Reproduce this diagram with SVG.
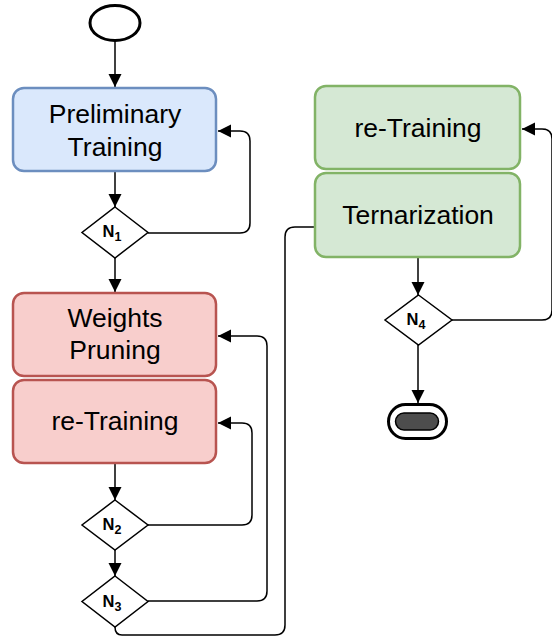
<svg xmlns="http://www.w3.org/2000/svg" width="552" height="636" viewBox="0 0 552 636">
<style>
.lbl{font-family:"Liberation Sans",Arial,sans-serif;font-size:26.5px;fill:#000;text-anchor:middle}
.dl{font-family:"Liberation Sans",Arial,sans-serif;font-weight:bold;fill:#000;font-size:16.5px}
.sub{font-size:12.5px}
.blue{fill:#dae8fc;stroke:#6c8ebf;stroke-width:2.5}
.red{fill:#f8cecc;stroke:#b85450;stroke-width:2.5}
.green{fill:#d5e8d4;stroke:#82b366;stroke-width:2.5}
.dia{fill:#fff;stroke:#000;stroke-width:1.5}
.edge{fill:none;stroke:#000;stroke-width:1.5}
.arr{marker-end:url(#ah)}
</style>
<defs>
<marker id="ah" markerUnits="userSpaceOnUse" markerWidth="14" markerHeight="14" refX="13" refY="6.5" orient="auto">
<path d="M0,0 L13,6.5 L0,13 Z" fill="#000"/>
</marker>
</defs>
<g id="connectors">
<path class="edge arr" d="M115,41 V87"/>
<path class="edge arr" d="M115,172 V207"/>
<path class="edge arr" d="M148,233 H240 Q250,233 250,223 V141 Q250,131 240,131 H218"/>
<path class="edge arr" d="M115,258 V292"/>
<path class="edge arr" d="M115,464 V500"/>
<path class="edge arr" d="M148,525 H242 Q252,525 252,515 V433 Q252,423 242,423 H218"/>
<path class="edge arr" d="M115,550 V576"/>
<path class="edge arr" d="M148,601 H257 Q267,601 267,591 V346 Q267,336 257,336 H218"/>
<path class="edge" d="M115,627 Q115,635 122,635 H275 Q285,635 285,625 V237 Q285,227 295,227 H315"/>
<path class="edge arr" d="M418,258 V295"/>
<path class="edge arr" d="M452,320 H542 Q552,320 552,310 V139 Q552,129 542,129 H522"/>
<path class="edge arr" d="M418,345 V403"/>
</g>
<g id="start">
<ellipse cx="115" cy="23" rx="25" ry="17.5" fill="#fff" stroke="#000" stroke-width="3"/>
</g>
<g id="preliminary-training">
<rect class="blue" x="13" y="88" width="203" height="83" rx="11"/>
<text class="lbl" x="115" y="123">Preliminary</text>
<text class="lbl" x="115" y="156">Training</text>
</g>
<g id="n1">
<polygon class="dia" points="115,207 148,232.5 115,258 82,232.5"/>
<text class="dl" x="102.5" y="236.5">N<tspan class="sub" dy="4">1</tspan></text>
</g>
<g id="weights-pruning">
<rect class="red" x="13" y="293" width="203" height="83" rx="11"/>
<text class="lbl" x="115" y="327">Weights</text>
<text class="lbl" x="115" y="359">Pruning</text>
</g>
<g id="re-training-red">
<rect class="red" x="13" y="380" width="203" height="83" rx="11"/>
<text class="lbl" x="115" y="430">re-Training</text>
</g>
<g id="n2">
<polygon class="dia" points="115,500 148,525 115,550 82,525"/>
<text class="dl" x="102.5" y="530">N<tspan class="sub" dy="4">2</tspan></text>
</g>
<g id="n3">
<polygon class="dia" points="115,576 148,601.5 115,627 82,601.5"/>
<text class="dl" x="102.5" y="606.5">N<tspan class="sub" dy="4">3</tspan></text>
</g>
<g id="re-training-green">
<rect class="green" x="315" y="86" width="205" height="83" rx="11"/>
<text class="lbl" x="418" y="137">re-Training</text>
</g>
<g id="ternarization">
<rect class="green" x="315" y="173" width="205" height="84" rx="11"/>
<text class="lbl" x="418" y="224">Ternarization</text>
</g>
<g id="n4">
<polygon class="dia" points="418.5,295 452,320 418.5,345 385,320"/>
<text class="dl" x="406.5" y="325">N<tspan class="sub" dy="3.5">4</tspan></text>
</g>
<g id="end">
<rect x="388.5" y="404.5" width="58" height="34" rx="17" fill="#fff" stroke="#000" stroke-width="3"/>
<rect x="395.5" y="413" width="43" height="17" rx="8.5" fill="#4d4d4d" stroke="#000" stroke-width="1.5"/>
</g>
</svg>
